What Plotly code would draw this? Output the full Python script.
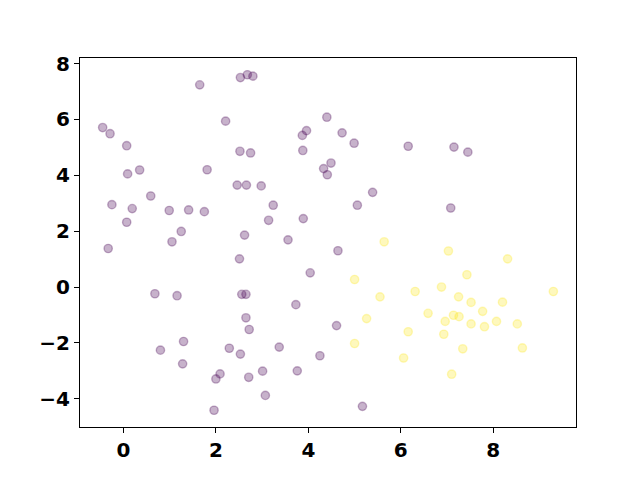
import plotly.graph_objects as go

# Class 0 (purple)
x0 = [-0.45, -0.29, 0.07, 0.35, 0.09, -0.25, 0.59, 0.19, 0.07, 0.99, 1.41, 1.75,
      1.25, 1.05, -0.33, 1.65, 2.21, 1.81, 2.53, 2.68, 2.80, 2.52, 2.46, 2.66,
      2.62, 2.75, 2.98, 3.24, 3.14, 3.89, 3.56, 4.40, 3.96, 3.87, 3.88, 4.73,
      4.99, 4.49, 4.33, 4.41, 5.39, 5.06, 6.16, 7.15, 7.45, 7.08, 2.51, 0.68,
      1.16, 2.56, 2.65, 2.65, 2.72, 1.30, 0.80, 1.28, 2.29, 2.53, 2.09, 2.00,
      2.71, 1.96, 4.64, 4.04, 3.73, 3.37, 4.61, 4.25, 3.01, 3.76, 3.07, 5.17]
y0 = [5.71, 5.49, 5.06, 4.19, 4.05, 2.95, 3.26, 2.81, 2.32, 2.74, 2.76, 2.70,
      1.99, 1.62, 1.38, 7.24, 5.94, 4.20, 7.50, 7.60, 7.55, 4.86, 3.65, 3.65,
      1.86, 4.80, 3.62, 2.93, 2.39, 2.45, 1.69, 6.08, 5.60, 5.43, 4.89, 5.52,
      5.15, 4.44, 4.24, 4.02, 3.39, 2.93, 5.04, 5.01, 4.83, 2.83, 1.01, -0.24,
      -0.31, -0.26, -0.26, -1.10, -1.52, -1.95, -2.26, -2.75, -2.19, -2.40, -3.11, -3.29,
      -3.23, -4.41, 1.30, 0.51, -0.63, -2.15, -1.38, -2.46, -3.01, -3.00, -3.88, -4.27]

# Class 1 (yellow)
x1 = [5.64, 5.00, 5.55, 5.26, 6.16, 5.00, 6.06, 7.03, 8.31, 7.43, 6.88, 6.31,
      9.30, 7.25, 7.52, 8.20, 6.59, 7.77, 7.14, 7.26, 6.96, 7.52, 7.81, 8.07,
      8.52, 6.93, 7.34, 8.63, 7.10]
y1 = [1.62, 0.27, -0.35, -1.13, -1.60, -2.02, -2.54, 1.29, 1.01, 0.44, 0.00, -0.16,
      -0.16, -0.35, -0.55, -0.54, -0.94, -0.87, -1.01, -1.06, -1.23, -1.32, -1.42, -1.23,
      -1.32, -1.69, -2.21, -2.18, -3.12]

x_ticks = [0, 2, 4, 6, 8]
y_ticks = [-4, -2, 0, 2, 4, 6, 8]

fig = go.Figure()
for xs, ys, rgb in [(x0, y0, "68,1,84"), (x1, y1, "253,231,37")]:
    fig.add_trace(go.Scatter(
        x=xs, y=ys, mode="markers",
        marker=dict(size=8.3, color=f"rgba({rgb},0.3)",
                    line=dict(color=f"rgba({rgb},0.3)", width=1.4)),
        showlegend=False, hoverinfo="skip"))

axis_common = dict(showgrid=False, zeroline=False, showline=True, mirror=True,
                   linecolor="black", linewidth=1, ticks="outside", ticklen=5,
                   tickwidth=1, tickcolor="black",
                   tickfont=dict(family="DejaVu Sans", size=20, color="black", weight="bold"))
fig.update_xaxes(range=[-0.94, 9.79], tickvals=x_ticks, **axis_common)
fig.update_yaxes(range=[-5.01, 8.2], tickvals=y_ticks, **axis_common)
fig.update_layout(width=640, height=480, margin=dict(l=72, r=72, t=50, b=61),
                  paper_bgcolor="white", plot_bgcolor="white")
fig.write_html("out.html")
